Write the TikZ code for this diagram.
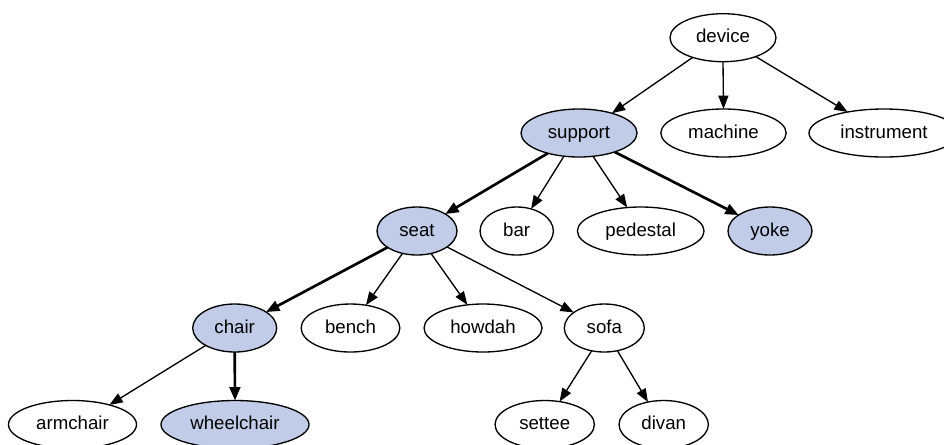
\documentclass[tikz,border=0pt]{standalone}
\usepackage{fontspec}
\setmainfont{Liberation Sans}
\usetikzlibrary{arrows.meta,shapes.geometric}
\definecolor{hilite}{RGB}{193,205,232}
\begin{document}
\begin{tikzpicture}[x=0.75pt,y=-0.75pt,
  concept/.style={ellipse,draw,line width=1pt,inner sep=0pt,outer sep=0pt,
    minimum height=36pt,text height=10.5pt,text depth=3pt,
    font=\fontsize{14}{17}\selectfont},
  marked/.style={concept,fill=hilite},
  link/.style={line width=1pt,-{Triangle[length=10pt,width=7.5pt]}},
  mainlink/.style={line width=2pt,-{Triangle[length=10pt,width=8pt]}}]
\useasboundingbox (0,0) rectangle (944,444);
% level 0
\node[concept,minimum width=79.5pt] (device) at (723,37.7) {device};
% level 1
\node[marked,minimum width=87pt] (support) at (579,133) {support};
\node[concept,minimum width=94pt] (machine) at (723.5,133) {machine};
\node[concept,minimum width=112.5pt] (instrument) at (884,133) {instrument};
% level 2
\node[marked,minimum width=60pt] (seat) at (417,231) {seat};
\node[concept,minimum width=55pt] (bar) at (516.7,231) {bar};
\node[concept,minimum width=95pt] (pedestal) at (640.7,231) {pedestal};
\node[marked,minimum width=63pt] (yoke) at (770,231) {yoke};
% level 3
\node[marked,minimum width=63pt] (chair) at (234.7,328) {chair};
\node[concept,minimum width=74pt] (bench) at (350.5,328) {bench};
\node[concept,minimum width=88.5pt] (howdah) at (483,328) {howdah};
\node[concept,minimum width=60pt] (sofa) at (604.3,328) {sofa};
% level 4
\node[concept,minimum width=96pt] (armchair) at (72.5,424.5) {armchair};
\node[marked,minimum width=111pt] (wheelchair) at (235,424.5) {wheelchair};
\node[concept,minimum width=74.5pt] (settee) at (544.7,424.5) {settee};
\node[concept,minimum width=67pt] (divan) at (663.7,424.5) {divan};
% connectors
\draw[link] (device.213) -- (support.31);
\draw[link] (device.270) -- (machine.90);
\draw[link] (device.330) -- (instrument.150);
\draw[mainlink] (support.213) -- (seat.31);
\draw[link] (support.237) -- (bar.57);
\draw[link] (support.301) -- (pedestal.120);
\draw[mainlink] (support.332) -- (yoke.153);
\draw[mainlink] (seat.209) -- (chair.27);
\draw[link] (seat.237) -- (bench.56);
\draw[link] (seat.302) -- (howdah.124);
\draw[link] (seat.332) -- (sofa.153);
\draw[link] (chair.211) -- (armchair.28);
\draw[mainlink] (chair.270) -- (wheelchair.90);
\draw[link] (sofa.241) -- (settee.57);
\draw[link] (sofa.300) -- (divan.125);
\end{tikzpicture}
\end{document}
